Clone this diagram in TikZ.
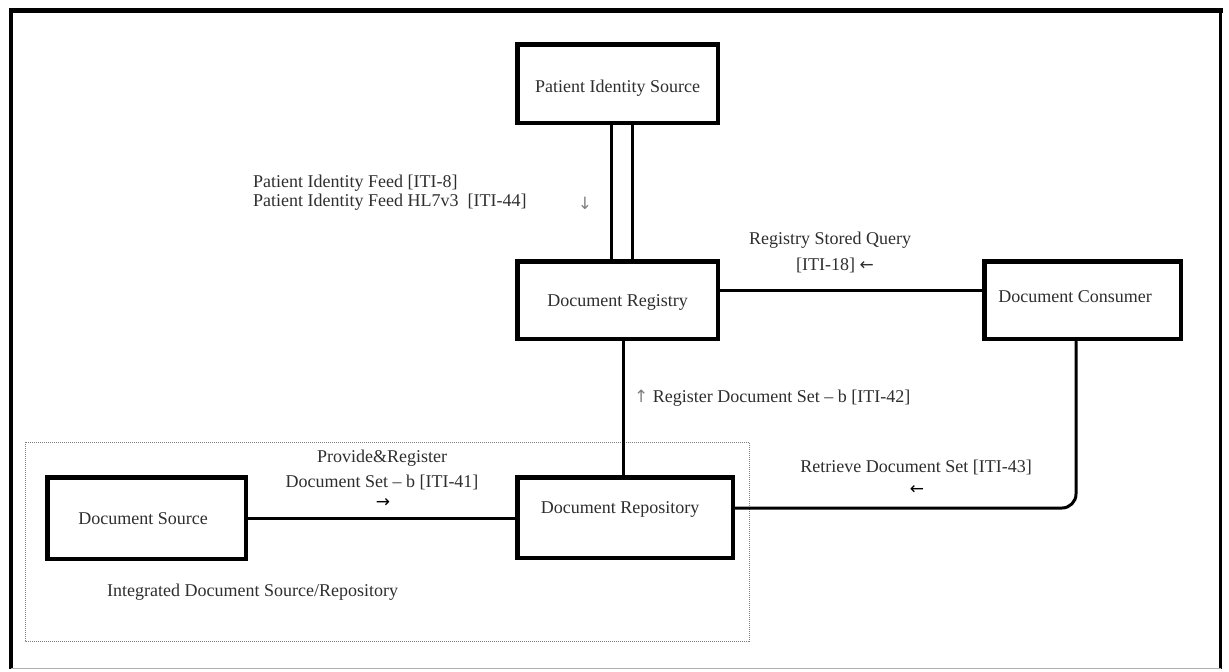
\documentclass[tikz,border=0pt]{standalone}
\usepackage{fontspec}
\setmainfont{Liberation Serif}
\newfontfamily\arrowfont{DejaVu Sans}
\definecolor{txtcol}{HTML}{2E2E2E}
\definecolor{framegray}{HTML}{B0B0B0}
\begin{document}
\begin{tikzpicture}[x=1pt,y=-1pt,
  box/.style={draw=black, line width=4.5pt, fill=white, inner sep=0pt},
  conn/.style={draw=black, line width=3pt},
  lbl/.style={font=\fontsize{18}{22}\selectfont, text=txtcol, inner sep=0pt},
  arr/.style={font=\arrowfont\fontsize{17}{20}\selectfont, inner sep=0pt}]
\useasboundingbox (0,0) rectangle (1229,672);
% outer frame
\draw[line width=5pt] (9.5,10) -- (1223,10);
\draw[line width=4pt] (11,8) -- (11,669);
\draw[line width=3.5pt] (1220.5,8) -- (1220.5,669);
\draw[line width=1.5pt, framegray] (11,668.5) -- (1220.5,668.5);
% integrated boundary
\draw[gray, densely dotted, line width=1pt] (25,442) rectangle (749,641);
% boxes
\node[box, minimum width=200.5pt, minimum height=78.5pt] (pis) at (617.5,83.5) {};
\node[box, minimum width=200.5pt, minimum height=77.5pt] (reg) at (617.5,300) {};
\node[box, minimum width=196.5pt, minimum height=77.5pt] (con) at (1082.5,300) {};
\node[box, minimum width=198.5pt, minimum height=81.5pt] (src) at (146.5,518) {};
\node[box, minimum width=215.5pt, minimum height=80.5pt] (repo) at (625,517.5) {};
% connectors
\draw[conn] ([xshift=-6pt]pis.south) -- ([xshift=-6pt]reg.north);
\draw[conn] ([xshift=15pt]pis.south) -- ([xshift=15pt]reg.north);
\draw[conn] ([yshift=10pt]reg.east) -- ([yshift=10pt]con.west);
\draw[conn] ([xshift=5.5pt]reg.south) -- ([xshift=5.5pt]reg.south |- repo.north);
\draw[conn] (src.east) -- (src.east -| repo.west);
\draw[conn, rounded corners=14pt] ([xshift=-6.5pt]con.south) |- ([yshift=9.5pt]repo.east);
% box texts
\node[lbl] (pist) at (617.5,88) {Patient Identity Source};
\node[lbl] (regt) at (617.5,302) {Document Registry};
\node[lbl] (cont) at (1075,297) {Document Consumer};
\node[lbl] (srct) at (143,519) {Document Source};
\node[lbl] (repot) at (620,509) {Document Repository};
% connector labels
\node[lbl, anchor=west] (pif1) at (253,183) {Patient Identity Feed [ITI-8]};
\node[lbl, anchor=west] (pif2) at (253,202) {Patient Identity Feed HL7v3\ \ [ITI-44]};
\node[arr, text=gray] (pifa) at (585,203) {↓};
\node[lbl] (rsq1) at (830,240) {Registry Stored Query};
\node[lbl] (rsq2) at (835,265) {[ITI-18] {\arrowfont\fontsize{17}{20}\selectfont ←}};
\node[lbl, anchor=west] (rds) at (634,398) {{\arrowfont\fontsize{17}{20}\selectfont\color{gray}↑} Register Document Set – b [ITI-42]};
\node[lbl] (pr1) at (382,458) {Provide\&Register};
\node[lbl] (pr2) at (382,482) {Document Set – b [ITI-41]};
\node[arr] (pra) at (383,503) {→};
\node[lbl] (ret) at (916,467) {Retrieve Document Set [ITI-43]};
\node[arr] (reta) at (917,490) {←};
\node[lbl, anchor=west] (idsr) at (107,592) {Integrated Document Source/Repository};
\end{tikzpicture}
\end{document}
